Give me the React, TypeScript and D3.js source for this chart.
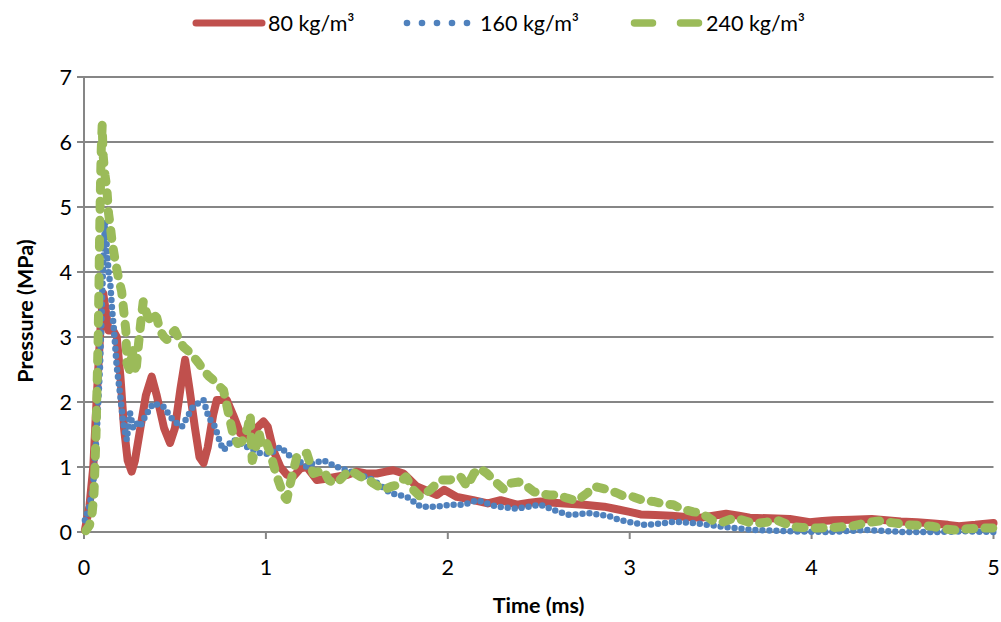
import React from 'react';
import * as d3 from 'd3';

const seriesNames = ['80 kg/m³', '160 kg/m³', '240 kg/m³'];
const xTicks = [0, 1, 2, 3, 4, 5];
const yTicks = [0, 1, 2, 3, 4, 5, 6, 7];

// 80 kg/m³
const tRed = [0.005,0.03,0.051,0.065,0.079,0.092,0.106,0.12,0.135,0.16,0.18,0.2,0.22,0.24,0.262,0.28,0.31,0.34,0.372,0.4,0.44,0.473,0.5,0.53,0.556,0.58,0.61,0.635,0.657,0.68,0.71,0.73,0.785,0.82,0.859,0.914,0.95,0.987,1.01,1.042,1.08,1.115,1.15,1.19,1.225,1.28,1.33,1.39,1.45,1.5,1.55,1.61,1.66,1.70,1.757,1.83,1.94,1.98,2.05,2.14,2.22,2.29,2.38,2.45,2.51,2.58,2.64,2.75,2.86,2.93,3.0,3.06,3.14,3.23,3.31,3.39,3.46,3.53,3.6,3.66,3.77,3.88,3.99,4.06,4.12,4.22,4.33,4.41,4.49,4.58,4.67,4.75,4.81,4.9,5.0];
const pRed = [0.03,0.4,1.0,1.8,2.54,3.2,3.67,3.4,3.1,3.1,3.0,2.4,1.6,1.1,0.93,1.1,1.6,2.1,2.39,2.1,1.6,1.37,1.6,2.2,2.65,2.2,1.6,1.15,1.06,1.3,1.8,2.03,2.03,1.8,1.52,1.47,1.6,1.7,1.62,1.25,1.0,0.88,0.85,0.98,1.0,0.8,0.82,0.85,0.88,0.93,0.9,0.9,0.93,0.95,0.9,0.7,0.57,0.65,0.54,0.49,0.44,0.49,0.42,0.45,0.47,0.45,0.44,0.42,0.39,0.35,0.31,0.27,0.26,0.25,0.23,0.22,0.25,0.28,0.25,0.22,0.21,0.2,0.15,0.17,0.18,0.19,0.2,0.18,0.16,0.15,0.13,0.11,0.09,0.11,0.14];

// 160 kg/m³
const tBlue = [0.005,0.03,0.05,0.07,0.088,0.097,0.106,0.116,0.125,0.135,0.145,0.155,0.165,0.18,0.198,0.216,0.235,0.253,0.27,0.29,0.308,0.34,0.381,0.436,0.49,0.538,0.6,0.657,0.684,0.72,0.75,0.767,0.82,0.895,0.969,1.02,1.08,1.134,1.152,1.225,1.26,1.317,1.39,1.5,1.59,1.684,1.776,1.85,1.94,2.01,2.09,2.16,2.27,2.38,2.51,2.58,2.67,2.78,2.89,2.95,3.08,3.14,3.25,3.38,3.51,3.69,3.9,4.1,4.3,4.5,4.7,4.85,5.0];
const pBlue = [0.18,0.4,0.7,1.52,2.54,3.36,4.2,4.77,4.4,4.0,3.8,3.4,3.1,2.54,2.13,1.67,1.42,1.83,1.6,1.67,1.62,1.8,1.98,1.93,1.72,1.62,1.93,2.03,1.77,1.62,1.36,1.26,1.42,1.31,1.21,1.2,1.31,1.16,1.16,1.0,1.06,1.1,1.0,0.9,0.8,0.6,0.54,0.39,0.39,0.42,0.42,0.49,0.39,0.36,0.42,0.34,0.26,0.29,0.24,0.18,0.11,0.12,0.16,0.13,0.08,0.03,0.01,0.0,0.03,0.0,0.0,0.01,0.0];

// 240 kg/m³
const tGreen = [0.01,0.03,0.045,0.055,0.06,0.066,0.07,0.074,0.078,0.08,0.083,0.085,0.088,0.091,0.095,0.1,0.105,0.115,0.125,0.135,0.145,0.155,0.17,0.19,0.207,0.22,0.23,0.236,0.25,0.27,0.285,0.3,0.315,0.326,0.345,0.363,0.38,0.4,0.418,0.44,0.46,0.48,0.5,0.525,0.546,0.575,0.6,0.63,0.657,0.685,0.71,0.74,0.767,0.785,0.8,0.82,0.845,0.87,0.9,0.914,0.918,0.925,0.945,0.96,0.98,1.005,1.03,1.055,1.08,1.1,1.115,1.13,1.152,1.17,1.2,1.225,1.26,1.29,1.317,1.345,1.372,1.4,1.44,1.464,1.52,1.56,1.59,1.647,1.69,1.72,1.77,1.81,1.85,1.904,1.96,2.01,2.07,2.106,2.143,2.176,2.216,2.27,2.31,2.344,2.39,2.436,2.473,2.52,2.56,2.6,2.657,2.71,2.767,2.803,2.84,2.88,2.93,2.968,3.02,3.08,3.13,3.19,3.24,3.28,3.35,3.38,3.43,3.46,3.51,3.57,3.6,3.68,3.75,3.81,3.9,3.95,4.03,4.12,4.22,4.3,4.37,4.45,4.53,4.6,4.66,4.72,4.79,4.86,4.93,5.0];
const pGreen = [0.02,0.1,0.3,0.6,1.0,1.5,2.0,2.5,3.0,3.4,3.9,4.4,4.9,5.4,5.9,6.26,5.8,5.5,5.3,4.9,4.7,4.45,4.2,3.9,3.7,3.36,3.1,2.6,2.5,2.8,2.45,2.9,3.3,3.55,3.36,3.26,3.35,3.3,3.1,3.0,2.95,3.05,3.1,2.95,2.85,2.78,2.7,2.6,2.49,2.4,2.34,2.25,2.18,1.95,1.75,1.5,1.36,1.4,1.6,1.8,1.5,1.1,1.3,1.55,1.3,1.36,1.16,0.9,0.7,0.55,0.5,0.7,0.95,1.16,1.2,1.21,0.9,0.93,0.95,0.8,0.75,0.78,0.9,0.95,0.85,0.82,0.75,0.65,0.7,0.72,0.85,0.65,0.54,0.65,0.8,0.8,0.85,0.7,0.9,0.98,0.9,0.75,0.65,0.75,0.77,0.7,0.62,0.58,0.57,0.57,0.52,0.48,0.6,0.7,0.68,0.65,0.6,0.55,0.54,0.48,0.47,0.43,0.42,0.36,0.31,0.3,0.23,0.17,0.15,0.21,0.2,0.13,0.15,0.18,0.08,0.07,0.06,0.07,0.09,0.14,0.17,0.14,0.11,0.1,0.09,0.05,0.03,0.05,0.06,0.06];

const colors = ['#C0504D', '#4F81BD', '#9BBB59'];
const font = 'Lato, "Open Sans", sans-serif';
const fs = 21.5;

export default function App() {
  const W = 1001, H = 622;
  const x = d3.scaleLinear().domain([0, 5]).range([84, 993.5]);
  const y = d3.scaleLinear().domain([0, 7]).range([532, 77]);
  const line = d3.line<[number, number]>().x(d => x(d[0])).y(d => y(d[1]));
  const red = line(tRed.map((t, i) => [t, pRed[i]]) as [number, number][]) || '';
  const blue = line(tBlue.map((t, i) => [t, pBlue[i]]) as [number, number][]) || '';
  const green = line(tGreen.map((t, i) => [t, pGreen[i]]) as [number, number][]) || '';
  const grid = '#868686';
  return (
    <svg width={W} height={H} style={{ position: 'absolute', left: 0, top: 0, background: '#fff' }} fontFamily={font}>
      {yTicks.filter(v => v > 0).map(v => (
        <line key={'g' + v} x1={x(0)} x2={x(5)} y1={y(v)} y2={y(v)} stroke={grid} strokeWidth={2} />
      ))}
      {yTicks.map(v => (
        <g key={'yt' + v}>
          <line x1={x(0) - 7} x2={x(0)} y1={y(v)} y2={y(v)} stroke={grid} strokeWidth={2} />
          <text x={72} y={y(v)} dy="0.35em" textAnchor="end" fontSize={fs} fill="#000">{v}</text>
        </g>
      ))}
      {xTicks.map(v => (
        <g key={'xt' + v}>
          <line x1={x(v)} x2={x(v)} y1={y(0)} y2={y(0) + 7} stroke={grid} strokeWidth={2} />
          <text x={x(v)} y={567} dy="0.35em" textAnchor="middle" fontSize={fs} fill="#000">{v}</text>
        </g>
      ))}
      <line x1={x(0)} x2={x(0)} y1={y(7)} y2={y(0)} stroke={grid} strokeWidth={2} />
      <line x1={x(0)} x2={x(5)} y1={y(0)} y2={y(0)} stroke={grid} strokeWidth={2} />

      <path d={red} fill="none" stroke={colors[0]} strokeWidth={8} strokeLinejoin="round" strokeLinecap="round" />
      <path d={blue} fill="none" stroke={colors[1]} strokeWidth={6.5} strokeLinecap="round" strokeDasharray="0 7" />
      <path d={green} fill="none" stroke={colors[2]} strokeWidth={9} strokeLinecap="round" strokeLinejoin="round" strokeDasharray="8 11" />

      {/* legend */}
      <line x1={196} x2={262} y1={23} y2={23} stroke={colors[0]} strokeWidth={7} strokeLinecap="round" />
      <text x={268} y={23} dy="0.35em" fontSize={fs}>{seriesNames[0]}</text>
      {[407, 422, 437, 452, 467].map(cx => <circle key={cx} cx={cx} cy={23} r={3.3} fill={colors[1]} />)}
      <text x={480} y={23} dy="0.35em" fontSize={fs}>{seriesNames[1]}</text>
      <line x1={634.5} x2={698.5} y1={23} y2={23} stroke={colors[2]} strokeWidth={7.5} strokeLinecap="round" strokeDasharray="18 28" />
      <text x={706} y={23} dy="0.35em" fontSize={fs}>{seriesNames[2]}</text>

      <text x={538.5} y={605} dy="0.35em" textAnchor="middle" fontSize={fs} fontWeight="bold">Time (ms)</text>
      <text transform="translate(25,311) rotate(-90)" dy="0.35em" textAnchor="middle" fontSize={fs} fontWeight="bold">Pressure (MPa)</text>
    </svg>
  );
}
